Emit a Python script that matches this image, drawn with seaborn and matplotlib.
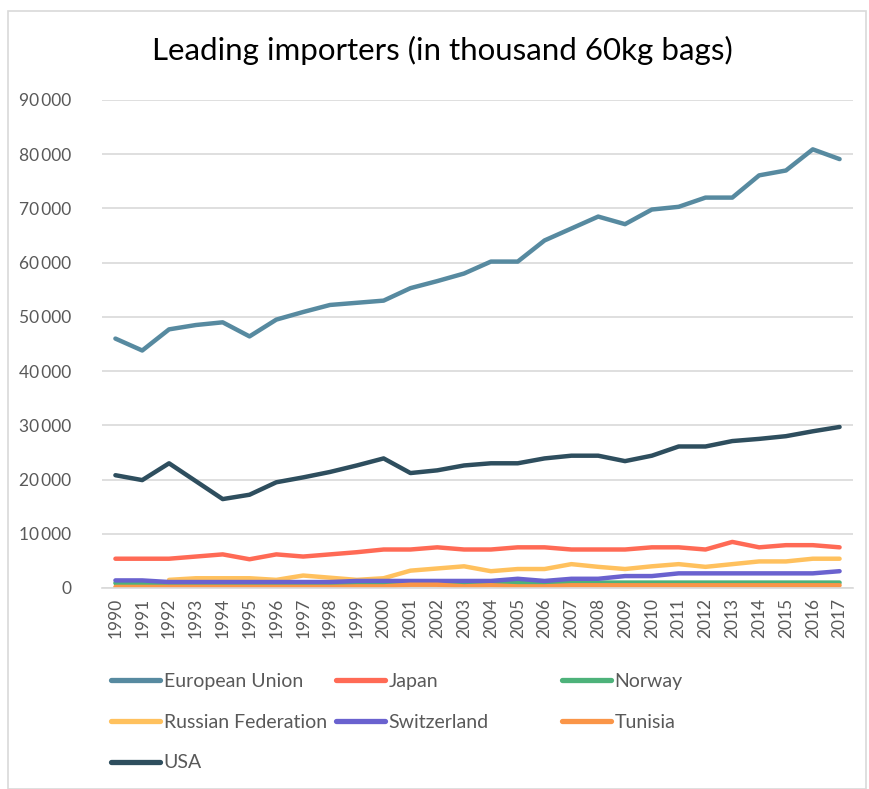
import numpy as np
import pandas as pd
import matplotlib
matplotlib.use("Agg")
import matplotlib.pyplot as plt
import seaborn as sns
from matplotlib.ticker import FuncFormatter
from matplotlib.patches import Rectangle

years = list(range(1990, 2018))
eu = [46000, 43800, 47700, 48500, 49000, 46400, 49500, 50900, 52200, 52600, 53000, 55300,
      56600, 58000, 60200, 60200, 64100, 66300, 68500, 67100, 69800, 70300, 72000, 72000,
      76100, 77000, 80900, 79100]
usa = [20800, 19900, 23000, 19700, 16400, 17200, 19500, 20400, 21400, 22600, 23900, 21200,
       21700, 22600, 23000, 23000, 23900, 24400, 24400, 23400, 24400, 26100, 26100, 27100,
       27500, 28000, 28900, 29700]
japan = [5400, 5400, 5400, 5800, 6200, 5300, 6200, 5800, 6200, 6600, 7100, 7100, 7500, 7100,
         7100, 7500, 7500, 7100, 7100, 7100, 7500, 7500, 7100, 8500, 7500, 7900, 7900, 7500]
russia = [np.nan, np.nan, 1500, 1800, 1800, 1800, 1500, 2300, 1900, 1500, 1800, 3200, 3600,
          4000, 3100, 3500, 3500, 4400, 3900, 3500, 4000, 4400, 3900, 4400, 4900, 4900, 5400, 5400]
switzerland = [1400, 1400, 1100, 1100, 1100, 1100, 1100, 1100, 1100, 1300, 1300, 1300, 1300,
               1300, 1300, 1700, 1300, 1700, 1700, 2200, 2200, 2700, 2700, 2700, 2700, 2700,
               2700, 3100]
norway = [900, 900, 800, 800, 800, 800, 800, 800, 800, 800, 800, 900, 900, 800, 900, 900, 900,
          1000, 1000, 1000, 1000, 1000, 1000, 1000, 1000, 1000, 1000, 1000]
tunisia = [200, 200, 200, 200, 200, 200, 200, 200, 200, 300, 300, 600, 600, 300, 500, 300, 300,
           500, 500, 500, 500, 500, 500, 500, 500, 500, 500, 500]

series = {
    "European Union": eu,
    "Japan": japan,
    "Norway": norway,
    "Russian Federation": russia,
    "Switzerland": switzerland,
    "Tunisia": tunisia,
    "USA": usa,
}
colors = {
    "European Union": "#578AA0",
    "Japan": "#FF6A55",
    "Norway": "#4DB27A",
    "Russian Federation": "#FFC15E",
    "Switzerland": "#6A62CF",
    "Tunisia": "#FA9548",
    "USA": "#2E4E5E",
}

rows = []
for name, vals in series.items():
    for i, (y, v) in enumerate(zip(years, vals)):
        rows.append({"idx": i, "year": y, "value": v, "country": name})
df = pd.DataFrame(rows)

sns.set_theme(style="white")
plt.rcParams["font.family"] = ["Lato", "DejaVu Sans"]

fig = plt.figure(figsize=(8.69, 7.89), dpi=100)
ax = fig.add_axes([102 / 869, 1 - 588 / 789, (853 - 102) / 869, (588 - 100) / 789])

sns.lineplot(data=df, x="idx", y="value", hue="country", palette=colors,
             hue_order=list(series.keys()), linewidth=3.2, ax=ax, legend=False,
             solid_capstyle="round")

ax.set_xlim(-0.5, len(years) - 0.5)
ax.set_ylim(0, 90000)
ax.set_yticks(range(0, 90001, 10000))
ax.yaxis.set_major_formatter(FuncFormatter(lambda v, p: f"{int(v):,}".replace(",", "\u2009") if v else "0"))
ax.set_xticks(range(len(years)))
ax.set_xticklabels([str(y) for y in years], rotation=90)
ax.tick_params(axis="both", colors="#595959", labelsize=12.5, length=0)
ax.tick_params(axis="y", pad=22)
ax.tick_params(axis="x", pad=7)
ax.grid(axis="y", color="#D9D9D9", linewidth=1.2)
ax.set_axisbelow(True)
for s in ["top", "right", "left"]:
    ax.spines[s].set_visible(False)
ax.spines["bottom"].set_color("#D9D9D9")
ax.spines["bottom"].set_linewidth(1.2)
ax.set_xlabel("")
ax.set_ylabel("")

fig.text(442 / 869, 1 - 50 / 789, "Leading importers (in thousand 60kg bags)",
         ha="center", va="center", fontsize=22.5, color="black")

columns = [
    (111, ["European Union", "Russian Federation", "USA"]),
    (336, ["Japan", "Switzerland"]),
    (562, ["Norway", "Tunisia"]),
]
for x0, names in columns:
    handles = [plt.Line2D([], [], color=colors[n], linewidth=3.8, solid_capstyle="round")
               for n in names]
    leg = fig.legend(handles, names, loc="upper left",
                     bbox_to_anchor=(x0 / 869, 1 - 673 / 789),
                     frameon=False, fontsize=14, labelcolor="#595959", handlelength=2.5,
                     handletextpad=0.2, labelspacing=1.22, borderaxespad=0, borderpad=0)

fig.patches.append(Rectangle((8 / 869, 0), (866 - 8) / 869, 1 - 11 / 789,
                             transform=fig.transFigure, fill=False,
                             edgecolor="#D9D9D9", linewidth=1.2))

fig.savefig("out.png", dpi=100, facecolor="white")
